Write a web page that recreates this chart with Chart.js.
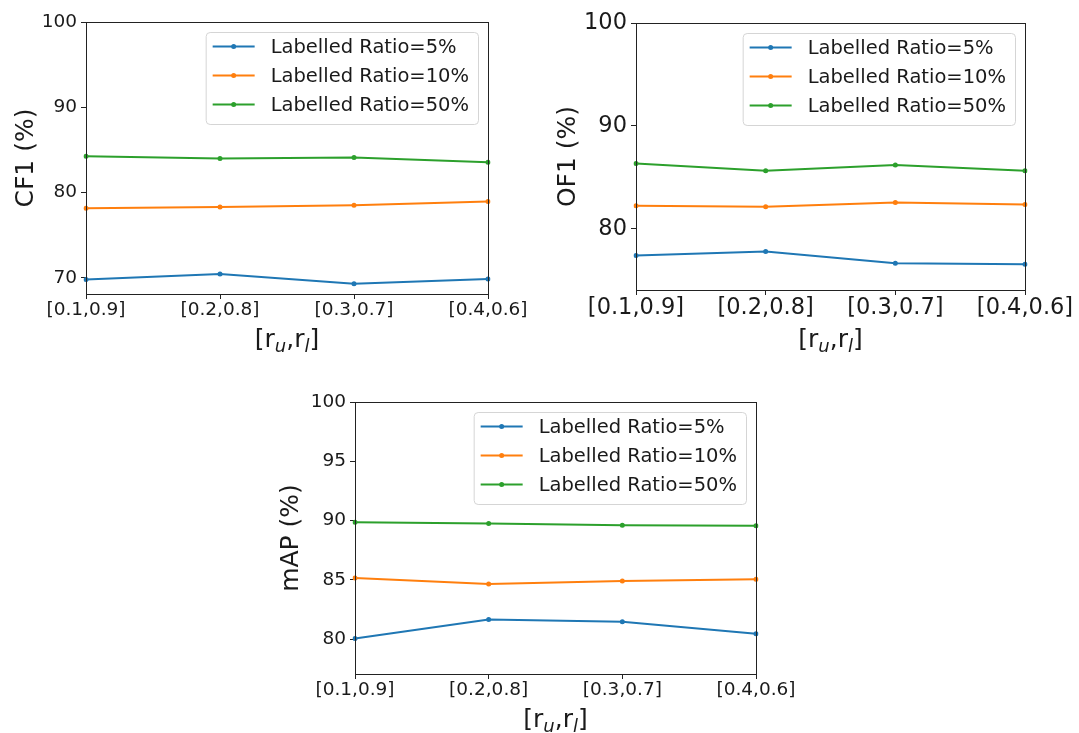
<!DOCTYPE html>
<html>
<head>
<meta charset="utf-8">
<script src="https://cdn.jsdelivr.net/npm/chart.js@4.4.1/dist/chart.umd.min.js"></script>
<style>
  body { margin: 0; background: #fff; width: 1079px; height: 733px; overflow: hidden; position: relative; }
  .box { position: absolute; }
</style>
</head>
<body>
<div class="box" style="left:0;top:0"><canvas id="cf1" width="540" height="365"></canvas></div>
<div class="box" style="left:540px;top:0"><canvas id="of1" width="539" height="365"></canvas></div>
<div class="box" style="left:270px;top:380px"><canvas id="map" width="540" height="353"></canvas></div>

<script>
// x categories: [r_u, r_l] pairs
const categories = ['[0.1,0.9]', '[0.2,0.8]', '[0.3,0.7]', '[0.4,0.6]'];
const seriesLabels = ['Labelled Ratio=5%', 'Labelled Ratio=10%', 'Labelled Ratio=50%'];

// CF1 (%)
const cf1Ratio5 = [69.8, 70.45, 69.3, 69.85];
const cf1Ratio10 = [78.15, 78.3, 78.5, 78.95];
const cf1Ratio50 = [84.25, 84.0, 84.1, 83.55];
const cf1Ticks = [70, 80, 90, 100];

// OF1 (%)
const of1Ratio5 = [77.4, 77.8, 76.65, 76.55];
const of1Ratio10 = [82.25, 82.15, 82.55, 82.35];
const of1Ratio50 = [86.35, 85.65, 86.2, 85.65];
const of1Ticks = [80, 90, 100];

// mAP (%)
const mapRatio5 = [80.05, 81.65, 81.45, 80.45];
const mapRatio10 = [85.15, 84.65, 84.9, 85.05];
const mapRatio50 = [89.85, 89.75, 89.6, 89.55];
const mapTicks = [80, 85, 90, 95, 100];

const colors = ['#1f77b4', '#ff7f0e', '#2ca02c'];
const FONT = '"DejaVu Sans", sans-serif';
const INK = '#1a1a1a';

// matplotlib-like extras: full frame, legend in upper right, x title with subscripts
const mplDecor = {
    id: 'mplDecor',
    afterDraw(chart, args, opts) {
        const ctx = chart.ctx;
        const a = chart.chartArea;
        ctx.save();

        // axes frame
        ctx.strokeStyle = '#222';
        ctx.lineWidth = 1;
        ctx.strokeRect(Math.round(a.left) + 0.5, Math.round(a.top) + 0.5,
            Math.round(a.right - a.left), Math.round(a.bottom - a.top));

        // legend
        const f = opts.legendSize;
        ctx.font = f + 'px ' + FONT;
        const sets = chart.data.datasets;
        const textW = Math.max(...sets.map(d => ctx.measureText(d.label).width));
        const pad = 7, handle = 42, gap = 16;
        const w = pad + handle + gap + textW + pad + 2;
        const h = 92;
        const right = a.right - 10, top = a.top + 10, left = right - w;
        ctx.beginPath();
        ctx.roundRect(left + 0.5, top + 0.5, w, h, 4);
        ctx.fillStyle = 'rgba(255,255,255,0.8)';
        ctx.fill();
        ctx.strokeStyle = '#d5d5d5';
        ctx.stroke();
        sets.forEach((d, i) => {
            const y = top + 14.5 + i * 29;
            ctx.strokeStyle = d.borderColor;
            ctx.lineWidth = 2;
            ctx.beginPath();
            ctx.moveTo(left + pad, y);
            ctx.lineTo(left + pad + handle, y);
            ctx.stroke();
            ctx.fillStyle = d.borderColor;
            ctx.beginPath();
            ctx.arc(left + pad + handle / 2, y, 2.5, 0, Math.PI * 2);
            ctx.fill();
            ctx.fillStyle = INK;
            ctx.textBaseline = 'middle';
            ctx.textAlign = 'left';
            ctx.fillText(d.label, left + pad + handle + gap, y + 1);
        });

        // x axis title [r_u, r_l]
        const parts = opts.xTitle;
        const big = opts.xTitleSize, small = Math.round(opts.xTitleSize * 0.7);
        const fontOf = p => p.sub ? 'italic ' + small + 'px ' + FONT : big + 'px ' + FONT;
        let total = 0;
        parts.forEach(p => { ctx.font = fontOf(p); total += ctx.measureText(p.t).width; });
        let x = (a.left + a.right) / 2 - total / 2;
        const cy = a.bottom + opts.xTitleOffset;
        ctx.fillStyle = INK;
        ctx.textAlign = 'left';
        ctx.textBaseline = 'alphabetic';
        parts.forEach(p => {
            ctx.font = fontOf(p);
            ctx.fillText(p.t, x, cy + big * 0.35 + (p.sub ? big * 0.22 : 0));
            x += ctx.measureText(p.t).width;
        });
        ctx.restore();
    }
};

const xTitleParts = [{ t: '[r' }, { t: 'u', sub: true }, { t: ',r' }, { t: 'l', sub: true }, { t: ']' }];

function makeChart(id, cfg) {
    const tickFont = { family: FONT, size: cfg.tickSize };
    const gridCfg = { display: true, drawOnChartArea: false, tickLength: 5, color: '#222', tickWidth: 1 };
    const datasets = cfg.values.map((vals, i) => ({
        label: seriesLabels[i],
        data: vals,
        borderColor: colors[i],
        backgroundColor: colors[i],
        pointBackgroundColor: colors[i],
        borderWidth: 2,
        pointRadius: 2.5,
        pointBorderWidth: 0,
        pointHoverRadius: 2.5,
        tension: 0
    }));

    return new Chart(document.getElementById(id), {
        type: 'line',
        data: { labels: categories, datasets: datasets },
        options: {
            responsive: false,
            animation: false,
            layout: { padding: { left: 0, top: cfg.padTop, right: cfg.padRight, bottom: 0 } },
            plugins: {
                legend: { display: false },
                tooltip: { enabled: false },
                mplDecor: {
                    legendSize: 19.5,
                    xTitle: xTitleParts,
                    xTitleSize: 25,
                    xTitleOffset: cfg.xTitleOffset
                }
            },
            scales: {
                x: {
                    type: 'category',
                    offset: false,
                    grid: gridCfg,
                    border: { display: false },
                    ticks: { font: tickFont, color: INK, padding: cfg.xTickPad, maxRotation: 0, autoSkip: false },
                    afterFit: s => { s.height = cfg.xHeight; }
                },
                y: {
                    min: cfg.min,
                    max: 100,
                    afterBuildTicks: s => { s.ticks = cfg.ticks.map(v => ({ value: v })); },
                    grid: gridCfg,
                    border: { display: false },
                    ticks: { font: tickFont, color: INK, padding: 4 },
                    title: {
                        display: true,
                        text: cfg.yTitle,
                        color: INK,
                        font: { family: FONT, size: 25 },
                        padding: { top: cfg.yTitlePad, bottom: 0 }
                    },
                    afterFit: s => { s.width = cfg.yWidth; }
                }
            }
        },
        plugins: [mplDecor]
    });
}

makeChart('cf1', {
    values: [cf1Ratio5, cf1Ratio10, cf1Ratio50],
    ticks: cf1Ticks, min: 68.1, yTitle: 'CF1 (%)',
    tickSize: 18.5, padTop: 22, padRight: 52, yWidth: 86, xHeight: 71,
    yTitlePad: 11, xTickPad: 0, xTitleOffset: 44
});

makeChart('of1', {
    values: [of1Ratio5, of1Ratio10, of1Ratio50],
    ticks: of1Ticks, min: 74.05, yTitle: 'OF1 (%)',
    tickSize: 22.5, padTop: 23, padRight: 54, yWidth: 96, xHeight: 75,
    yTitlePad: 13, xTickPad: 0, xTitleOffset: 48
});

makeChart('map', {
    values: [mapRatio5, mapRatio10, mapRatio50],
    ticks: mapTicks, min: 77.05, yTitle: 'mAP (%)',
    tickSize: 18.5, padTop: 22, padRight: 54, yWidth: 85, xHeight: 59,
    yTitlePad: 6, xTickPad: 0, xTitleOffset: 44
});
</script>
</body>
</html>
